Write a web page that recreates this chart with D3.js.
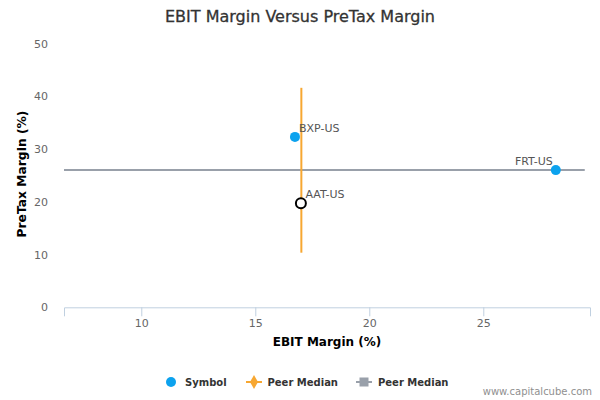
<!DOCTYPE html>
<html lang="en">
<head>
    <meta charset="UTF-8">
    <title>EBIT Margin Versus PreTax Margin</title>
    <script src="https://cdn.jsdelivr.net/npm/d3@7"></script>
    <style>
        body {
            margin: 0;
            background: white;
        }
        text {
            font-family: "DejaVu Sans", Verdana, sans-serif;
        }
    </style>
</head>
<body>
    <script>
        // chart values
        const symbolNames = ["BXP-US", "FRT-US"];
        const symbolEbit = [16.74, 28.18];
        const symbolPretax = [32.3, 26.0];

        const companyName = ["AAT-US"];
        const companyEbit = [17.0];
        const companyPretax = [19.7];

        // peer medians: vertical (orange) and horizontal (gray) lines
        const medianEbitX = [17.02, 17.02];
        const medianEbitY = [10.35, 41.6];
        const medianPretaxX = [6.61, 29.45];
        const medianPretaxY = [26.0, 26.0];

        const xTicks = [10, 15, 20, 25];
        const yTicks = [0, 10, 20, 30, 40, 50];
        const legendLabels = ["Symbol", "Peer Median", "Peer Median"];

        const width = 600;
        const height = 400;
        const margin = { left: 64, right: 10, top: 43.5, bottom: 92.7 };

        const blue = "#0ca2ee";
        const orange = "#f7a731";
        const gray = "#99a0aa";

        let svg = d3.select("body").append("svg")
            .attr("width", width)
            .attr("height", height);

        let x = d3.scaleLinear()
            .domain([6.61, 29.68])
            .range([margin.left, width - margin.right]);
        let y = d3.scaleLinear()
            .domain([0, 50])
            .range([height - margin.bottom, margin.top]);

        //title
        svg.append("text")
            .attr("x", 300)
            .attr("y", 22)
            .attr("text-anchor", "middle")
            .attr("font-size", 16)
            .attr("fill", "#333")
            .attr("stroke", "#333")
            .attr("stroke-width", 0.3)
            .text("EBIT Margin Versus PreTax Margin");

        //x axis
        let xAxis = svg.append("g")
            .attr("transform", `translate(0,${y(0)})`)
            .call(d3.axisBottom(x).tickValues(xTicks).tickSize(9).tickPadding(3));
        xAxis.select(".domain").attr("stroke", "#c0d0e0");
        xAxis.selectAll(".tick line").attr("stroke", "#c0d0e0");
        xAxis.selectAll(".tick text")
            .attr("font-size", 11)
            .attr("fill", "#666")
            .attr("font-family", "DejaVu Sans, sans-serif");

        //y axis (labels only)
        let yAxis = svg.append("g")
            .attr("transform", `translate(48,0)`)
            .call(d3.axisLeft(y).tickValues(yTicks).tickSize(0).tickPadding(0));
        yAxis.select(".domain").remove();
        yAxis.selectAll(".tick text")
            .attr("font-size", 11)
            .attr("fill", "#666")
            .attr("font-family", "DejaVu Sans, sans-serif");

        //axis titles
        svg.append("text")
            .attr("x", 327)
            .attr("y", 346)
            .attr("text-anchor", "middle")
            .attr("font-size", 12)
            .attr("font-weight", "bold")
            .attr("fill", "#000")
            .text("EBIT Margin (%)");

        svg.append("text")
            .attr("transform", "translate(26,174) rotate(-90)")
            .attr("text-anchor", "middle")
            .attr("font-size", 12.3)
            .attr("font-weight", "bold")
            .attr("fill", "#000")
            .text("PreTax Margin (%)");

        let line = d3.line().x(d => x(d[0])).y(d => y(d[1]));

        //peer median lines
        svg.append("path")
            .attr("d", line(d3.zip(medianPretaxX, medianPretaxY)))
            .attr("stroke", gray)
            .attr("stroke-width", 2)
            .attr("fill", "none");
        svg.append("path")
            .attr("d", line(d3.zip(medianEbitX, medianEbitY)))
            .attr("stroke", orange)
            .attr("stroke-width", 2)
            .attr("fill", "none");

        //symbol points
        let symbols = d3.range(symbolNames.length).map(i => ({
            name: symbolNames[i], ebit: symbolEbit[i], pretax: symbolPretax[i]
        }));
        svg.selectAll(".sym")
            .data(symbols)
            .enter()
            .append("circle")
            .attr("class", "sym")
            .attr("cx", d => x(d.ebit))
            .attr("cy", d => y(d.pretax))
            .attr("r", 5)
            .attr("fill", blue);

        svg.selectAll(".symLabel")
            .data(symbols)
            .enter()
            .append("text")
            .attr("class", "symLabel")
            .attr("x", d => x(d.ebit) > 500 ? x(d.ebit) - 3 : x(d.ebit) + 4)
            .attr("y", d => y(d.pretax) - 5)
            .attr("text-anchor", d => x(d.ebit) > 500 ? "end" : "start")
            .attr("font-size", 11)
            .attr("fill", "#555")
            .text(d => d.name);

        //company point
        svg.append("circle")
            .attr("cx", x(companyEbit[0]))
            .attr("cy", y(companyPretax[0]))
            .attr("r", 5)
            .attr("fill", "white")
            .attr("stroke", "black")
            .attr("stroke-width", 2);
        svg.append("text")
            .attr("x", x(companyEbit[0]) + 4.5)
            .attr("y", y(companyPretax[0]) - 5.5)
            .attr("font-size", 11)
            .attr("fill", "#555")
            .text(companyName[0]);

        //legend
        let legend = svg.append("g").attr("transform", "translate(0,382)");
        legend.append("circle")
            .attr("cx", 171).attr("cy", 0).attr("r", 5).attr("fill", blue);
        legend.append("line")
            .attr("x1", 246).attr("x2", 262).attr("y1", 0).attr("y2", 0)
            .attr("stroke", orange).attr("stroke-width", 2);
        legend.append("path")
            .attr("d", d3.symbol(d3.symbolDiamond, 55)())
            .attr("transform", "translate(254,0)")
            .attr("fill", orange);
        legend.append("line")
            .attr("x1", 356).attr("x2", 372).attr("y1", 0).attr("y2", 0)
            .attr("stroke", gray).attr("stroke-width", 2);
        legend.append("rect")
            .attr("x", 359.5).attr("y", -4.5).attr("width", 9).attr("height", 9)
            .attr("fill", gray);

        legend.selectAll(".legText")
            .data(legendLabels)
            .enter()
            .append("text")
            .attr("class", "legText")
            .attr("x", (d, i) => [185, 267.5, 378][i])
            .attr("y", 4)
            .attr("font-size", 10)
            .attr("font-weight", "bold")
            .attr("fill", "#333")
            .text(d => d);

        //credit
        svg.append("text")
            .attr("x", 592)
            .attr("y", 395)
            .attr("text-anchor", "end")
            .attr("font-size", 10)
            .attr("fill", "#909090")
            .text("www.capitalcube.com");
    </script>
</body>
</html>
